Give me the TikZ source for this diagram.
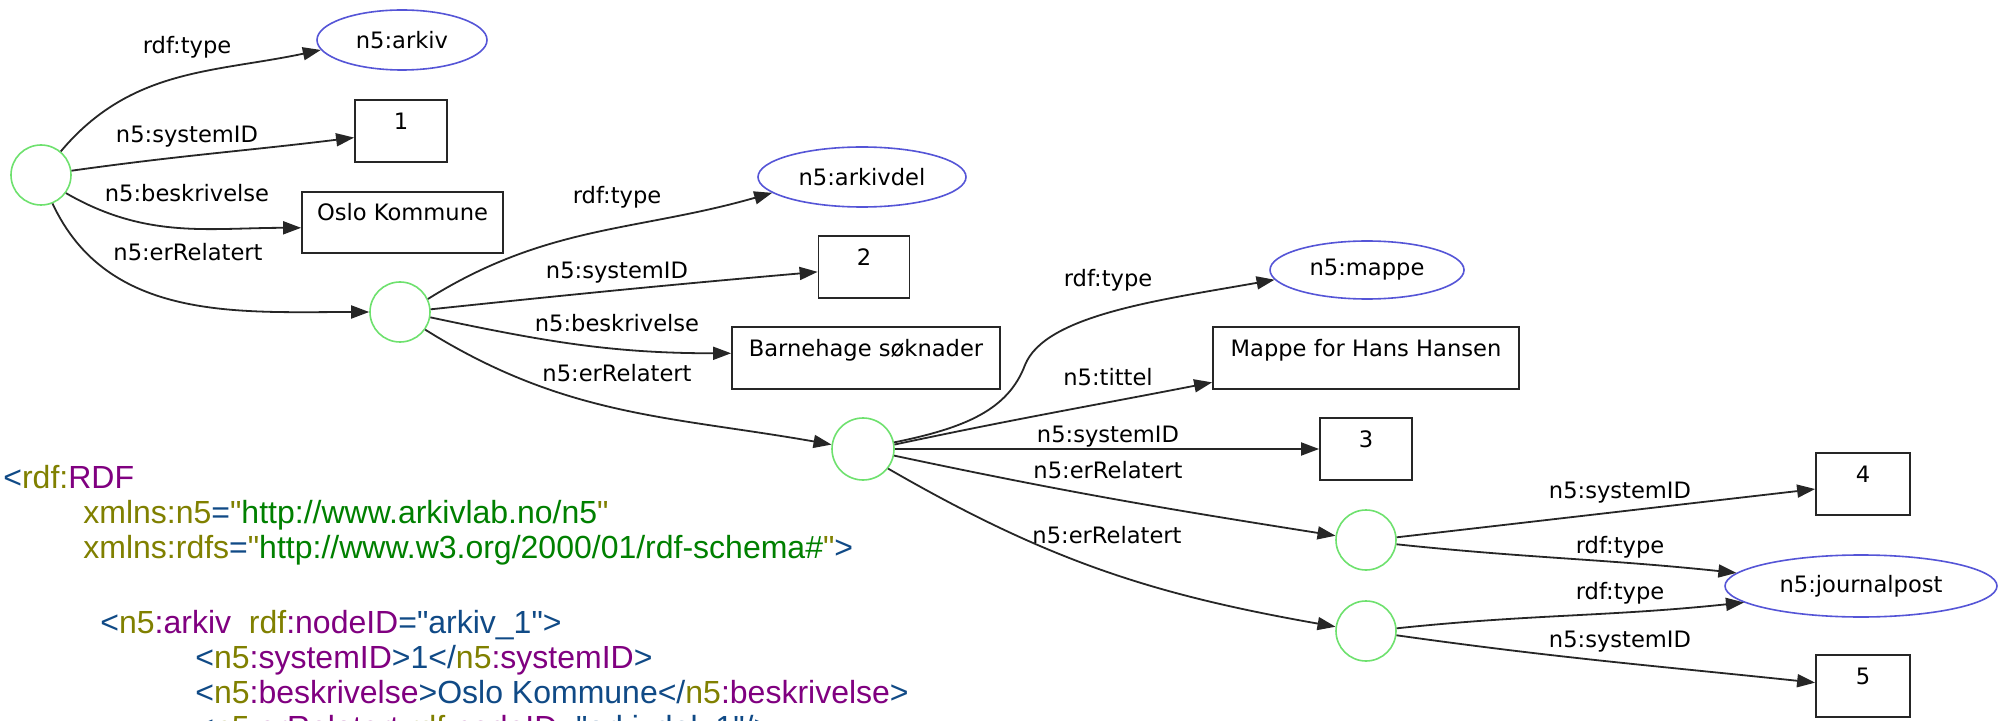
\documentclass[tikz,border=0pt]{standalone}
\usepackage{fontspec}
\setmainfont{DejaVu Sans}
\newfontfamily\xmlfont{Liberation Sans}
\usetikzlibrary{arrows.meta,shapes.geometric}
\definecolor{xnavy}{RGB}{16,74,134}
\definecolor{xolive}{RGB}{128,128,0}
\definecolor{xpurple}{RGB}{128,0,128}
\definecolor{xgreen}{RGB}{0,128,0}
\definecolor{gblue}{RGB}{85,85,215}
\definecolor{ggreen}{RGB}{110,225,110}
\begin{document}
\begin{tikzpicture}[x=0.5pt,y=-0.5pt,
  every node/.style={font=\fontsize{11.3pt}{13pt}\selectfont},
  bnode/.style={circle, draw=ggreen, line width=0.8pt, minimum size=30pt, inner sep=0pt},
  cls/.style={ellipse, draw=gblue, line width=0.8pt, inner sep=0pt},
  lit/.style={rectangle, draw=black!85, line width=0.9pt, text height=14.6pt, text depth=16.2pt, inner ysep=0pt, inner xsep=0pt},
  conn/.style={draw=black!85, line width=0.9pt, -{Triangle[length=9pt,width=6.5pt]}},
  elabel/.style={inner sep=0pt},
  xml/.style={anchor=base west, inner sep=0pt, font=\xmlfont\fontsize{16pt}{18pt}\selectfont},
]
\fill[white] (0,0) rectangle (2011,721);
\useasboundingbox (0,0) rectangle (2011,721);

% nodes
\node[bnode] (b1) at (41,175) {};
\node[cls, minimum width=85pt, minimum height=30pt] (arkiv) at (402,40) {n5:arkiv};
\node[lit, minimum width=46pt] (s1) at (401,131) {1};
\node[lit, minimum width=100.5pt] (oslo) at (402.5,222.5) {Oslo Kommune};
\node[bnode] (b2) at (400,312) {};
\node[cls, minimum width=104pt, minimum height=30pt] (arkivdel) at (862,177) {n5:arkivdel};
\node[lit, minimum width=45.5pt] (s2) at (864,267) {2};
\node[lit, minimum width=134pt] (barn) at (866,358) {Barnehage søknader};
\node[bnode, minimum size=31pt] (b3) at (863,449) {};
\node[cls, minimum width=97pt, minimum height=29pt] (mappe) at (1367,270) {n5:mappe};
\node[lit, minimum width=153pt] (mtit) at (1366,358) {Mappe for Hans Hansen};
\node[lit, minimum width=46pt] (s3) at (1366,449) {3};
\node[bnode] (b4) at (1366,540) {};
\node[bnode] (b5) at (1366,631) {};
\node[lit, minimum width=47pt] (s4) at (1863,484) {4};
\node[cls, minimum width=136pt, minimum height=31pt] (jp) at (1861,586) {n5:journalpost};
\node[lit, minimum width=47pt] (s5) at (1863,686) {5};

% connectors
\draw[conn] (b1.50) to[out=50,in=192] (arkiv.187);
\draw[conn] (b1.8) to[out=8,in=187] (s1.188);
\draw[conn] (b1.-36) to[out=-30,in=180] (oslo.183);
\draw[conn] (b1.-68) to[out=-65,in=180] (b2.180);

\draw[conn] (b2.25) to[out=32,in=196] (arkivdel.190);
\draw[conn] (b2.5) to[out=6,in=185] (s2.186);
\draw[conn] (b2.-10) to[out=-12,in=180] (barn.178);
\draw[conn] (b2.-35) to[out=-32,in=170] (b3.172);

\draw[conn] (b3.12) .. controls (965,428) and (1008,410) .. (1025,365) .. controls (1045,315) and (1160,300) .. (mappe.186);
\draw[conn] (b3.8) to[out=12,in=191] (mtit.189);
\draw[conn] (b3.0) -- (s3.180);
\draw[conn] (b3.-12) to[out=-12,in=171] (b4.172);
\draw[conn] (b3.-38) to[out=-30,in=170] (b5.172);

\draw[conn] (b4.5) -- (s4.186);
\draw[conn] (b4.-8) to[out=-6,in=174] (jp.174);
\draw[conn] (b5.5) to[out=6,in=186] (jp.188);
\draw[conn] (b5.-8) to[out=-8,in=174] (s5.176);

% edge labels
\node[elabel] (l1a) at (187,47) {rdf:type};
\node[elabel] (l1b) at (187,137) {n5:systemID};
\node[elabel] (l1c) at (187,193) {n5:beskrivelse};
\node[elabel] (l1d) at (188,252) {n5:erRelatert};
\node[elabel] (l2a) at (617,197) {rdf:type};
\node[elabel] (l2b) at (617,273) {n5:systemID};
\node[elabel] (l2c) at (617,323) {n5:beskrivelse};
\node[elabel] (l2d) at (617,373) {n5:erRelatert};
\node[elabel] (l3a) at (1108,280) {rdf:type};
\node[elabel] (l3b) at (1108,377) {n5:tittel};
\node[elabel] (l3c) at (1108,437) {n5:systemID};
\node[elabel] (l3d) at (1108,470) {n5:erRelatert};
\node[elabel] (l3e) at (1107,535) {n5:erRelatert};
\node[elabel] (l4a) at (1620,493) {n5:systemID};
\node[elabel] (l4b) at (1620,547) {rdf:type};
\node[elabel] (l5a) at (1620,593) {rdf:type};
\node[elabel] (l5b) at (1620,642) {n5:systemID};

% XML text
\node[xml] (x1) at (3,488) {\color{xnavy}<\color{xolive}rdf:\color{xpurple}RDF};
\node[xml] (x2) at (83,523) {\color{xolive}xmlns:n5\color{xnavy}=\color{xolive}"\color{xgreen}http://www.arkivlab.no/n5\color{xolive}"};
\node[xml] (x3) at (83,558) {\color{xolive}xmlns:rdfs\color{xnavy}=\color{xolive}"\color{xgreen}http://www.w3.org/2000/01/rdf-schema\#\color{xolive}"\color{xnavy}>};
\node[xml] (x5) at (100,633) {\color{xnavy}<\color{xolive}n5\color{xpurple}:arkiv\hspace{0.556em}\color{xolive}rdf\color{xpurple}:nodeID\color{xnavy}="arkiv\_1">};
\node[xml] (x6) at (195,668) {\color{xnavy}<\color{xolive}n5\color{xpurple}:systemID\color{xnavy}>1</\color{xolive}n5\color{xpurple}:systemID\color{xnavy}>};
\node[xml] (x7) at (195,703) {\color{xnavy}<\color{xolive}n5\color{xpurple}:beskrivelse\color{xnavy}>Oslo Kommune</\color{xolive}n5\color{xpurple}:beskrivelse\color{xnavy}>};
\node[xml] (x8) at (195,738) {\color{xnavy}<\color{xolive}n5\color{xpurple}:erRelatert \color{xolive}rdf\color{xpurple}:nodeID\color{xnavy}="arkivdel\_1"/>};
\end{tikzpicture}
\end{document}
